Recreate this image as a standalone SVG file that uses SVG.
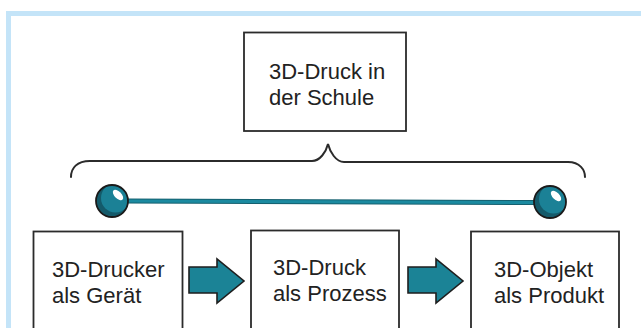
<svg xmlns="http://www.w3.org/2000/svg" width="641" height="328" viewBox="0 0 641 328">
  <style>
    .box { fill: #ffffff; stroke: #2b2b2b; stroke-width: 1.8; }
    .label { font-family: "Liberation Sans", Arial, sans-serif; font-size: 22px; fill: #222222; }
    .brace { fill: none; stroke: #2b2b2b; stroke-width: 2; stroke-linecap: round; }
    .arrow { fill: #1b8396; stroke: #1e1e1e; stroke-width: 1.6; stroke-linejoin: miter; }
  </style>
  <defs>
    <clipPath id="ballClip">
      <circle cx="0" cy="0" r="16"/>
    </clipPath>
    <!-- glossy ball used at both ends of the time line -->
    <g id="ball">
      <circle cx="0" cy="0" r="16" fill="#145a6a"/>
      <circle cx="3.5" cy="-3" r="14.5" fill="#1b8196" clip-path="url(#ballClip)"/>
      <ellipse cx="6" cy="-6" rx="6.5" ry="3.4" transform="rotate(45 6 -6)" fill="#ffffff"/>
      <circle cx="0" cy="0" r="16" fill="none" stroke="#1a1a1a" stroke-width="1.8"/>
    </g>
  </defs>

  <rect width="641" height="328" fill="#ffffff"/>
  <!-- light blue frame, open to the right and bottom -->
  <path d="M8.5,332 L8.5,13.5 L645,13.5" fill="none" stroke="#c4e4f8" stroke-width="5"/>

  <g id="connectors">
    <path class="brace" d="M71,177 C71,168 77,161 90,161 L312,161 C320,161 326,152 328,144 C330,152 336,162 344,162 L568,162 C580,162 585,170 585,177"/>
    <line x1="126" y1="201" x2="536" y2="202.5" stroke="#15606f" stroke-width="5"/>
    <line x1="126" y1="201" x2="536" y2="202.5" stroke="#1b8aa0" stroke-width="3"/>
    <use href="#ball" x="112" y="201"/>
    <use href="#ball" x="550" y="202"/>
    <polygon class="arrow" points="189,267 217,267 217,259 244,281 217,303 217,293 189,293"/>
    <polygon class="arrow" points="408,267 436,267 436,259 463,281 436,303 436,293 408,293"/>
  </g>

  <g id="node-schule">
    <rect class="box" x="244" y="32.5" width="162" height="98.5"/>
    <text class="label" x="269" y="79">3D-Druck in</text>
    <text class="label" x="269" y="105">der Schule</text>
  </g>

  <g id="node-geraet">
    <rect class="box" x="33.5" y="231.5" width="149" height="110"/>
    <text class="label" x="52" y="277">3D-Drucker</text>
    <text class="label" x="52" y="303">als Gerät</text>
  </g>

  <g id="node-prozess">
    <rect class="box" x="251" y="230.5" width="148" height="110"/>
    <text class="label" x="273" y="275">3D-Druck</text>
    <text class="label" x="273" y="301">als Prozess</text>
  </g>

  <g id="node-produkt">
    <rect class="box" x="471" y="231.5" width="148" height="110"/>
    <text class="label" x="494" y="277">3D-Objekt</text>
    <text class="label" x="494" y="303">als Produkt</text>
  </g>
</svg>
